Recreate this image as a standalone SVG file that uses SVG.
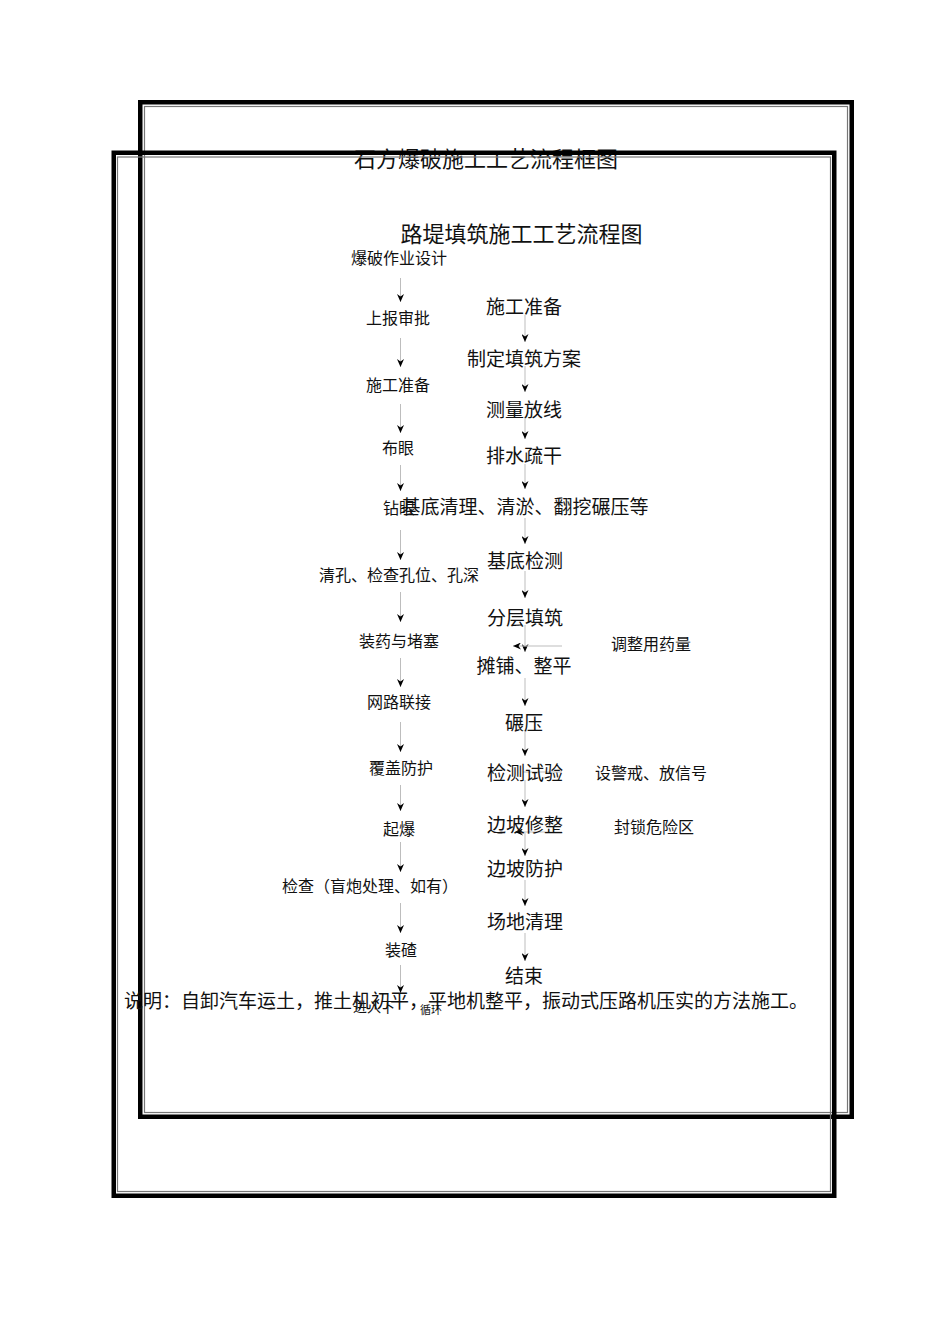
<svg xmlns="http://www.w3.org/2000/svg" width="950" height="1344" viewBox="0 0 950 1344">
<style>
text{font-family:"Noto Sans CJK SC","Noto Sans CJK JP",sans-serif;fill:#111}
.t1{font-size:22px;text-anchor:middle}
.l{font-size:16px;text-anchor:middle}
.r{font-size:19px;text-anchor:middle}
.s{font-size:16px;text-anchor:middle}
.fr{fill:none;stroke:#000;stroke-width:4.5}
.fi{fill:none;stroke:#777;stroke-width:1.2}
.c{stroke:#bdbdbd;stroke-width:1;fill:none;marker-end:url(#ah)}
.cn{stroke:#bdbdbd;stroke-width:1;fill:none}
</style>
<defs>
<marker id="ah" viewBox="0 0 8 7" refX="8" refY="3.5" markerWidth="8" markerHeight="7" markerUnits="userSpaceOnUse" orient="auto">
<path d="M0,0 L8,3.5 L0,7 L2.5,3.5 Z" fill="#000"/>
</marker>
</defs>
<rect width="950" height="1344" fill="#fff"/>
<g id="frame1">
<rect class="fr" x="140.25" y="102.25" width="711.5" height="1014.5"/>
<rect class="fi" x="144.5" y="106.5" width="703" height="1006"/>
</g>
<g id="title1"><text class="t1" x="486" y="167">石方爆破施工工艺流程框图</text></g>
<g id="frame2">
<rect class="fr" x="113.75" y="152.75" width="720.5" height="1043"/>
<rect class="fi" x="117.5" y="157" width="713" height="1034.5"/>
</g>
<g id="title2"><text class="t1" x="521.5" y="241.5">路堤填筑施工工艺流程图</text></g>
<g id="connectors">
<line class="c" x1="400.5" y1="278" x2="400.5" y2="302"/>
<line class="c" x1="400.5" y1="338" x2="400.5" y2="367"/>
<line class="c" x1="400.5" y1="404" x2="400.5" y2="433"/>
<line class="c" x1="400.5" y1="465" x2="400.5" y2="491"/>
<line class="c" x1="400.5" y1="530" x2="400.5" y2="560"/>
<line class="c" x1="400.5" y1="592" x2="400.5" y2="622"/>
<line class="c" x1="400.5" y1="658" x2="400.5" y2="687"/>
<line class="c" x1="400.5" y1="722" x2="400.5" y2="752"/>
<line class="c" x1="400.5" y1="785" x2="400.5" y2="811"/>
<line class="c" x1="400.5" y1="842" x2="400.5" y2="872"/>
<line class="c" x1="400.5" y1="903" x2="400.5" y2="933"/>
<line class="c" x1="400.5" y1="965" x2="400.5" y2="993"/>
<line class="c" x1="525" y1="315" x2="525" y2="342"/>
<line class="c" x1="525" y1="366" x2="525" y2="392"/>
<line class="c" x1="525" y1="417" x2="525" y2="439"/>
<line class="c" x1="525" y1="464" x2="525" y2="489"/>
<line class="c" x1="525" y1="518" x2="525" y2="544"/>
<line class="c" x1="525" y1="571" x2="525" y2="598"/>
<line class="c" x1="525" y1="625" x2="525" y2="652"/>
<line class="c" x1="525" y1="678" x2="525" y2="706"/>
<line class="c" x1="525" y1="730" x2="525" y2="756"/>
<line class="c" x1="525" y1="780" x2="525" y2="807"/>
<line class="c" x1="525" y1="833" x2="525" y2="856"/>
<line class="c" x1="525" y1="880" x2="525" y2="906"/>
<line class="c" x1="525" y1="933" x2="525" y2="961"/>
<line class="c" x1="562" y1="646" x2="513" y2="646"/>
<line class="cn" x1="523" y1="772" x2="562" y2="772"/>
<line class="c" x1="562" y1="832" x2="515" y2="832"/>
</g>
<g id="left-nodes">
<g id="n-l1"><text class="l" x="399" y="264">爆破作业设计</text></g>
<g id="n-l2"><text class="l" x="398" y="324">上报审批</text></g>
<g id="n-l3"><text class="l" x="398" y="391">施工准备</text></g>
<g id="n-l4"><text class="l" x="398" y="454">布眼</text></g>
<g id="n-l5"><text class="l" x="399" y="514">钻眼</text></g>
<g id="n-l6"><text class="l" x="399" y="581">清孔、检查孔位、孔深</text></g>
<g id="n-l7"><text class="l" x="399" y="647">装药与堵塞</text></g>
<g id="n-l8"><text class="l" x="399" y="708">网路联接</text></g>
<g id="n-l9"><text class="l" x="401" y="774">覆盖防护</text></g>
<g id="n-l10"><text class="l" x="399" y="835">起爆</text></g>
<g id="n-l11"><text style="font-size:16px" x="282" y="892">检查（盲炮处理、如有）</text></g>
<g id="n-l12"><text class="l" x="401" y="956">装碴</text></g>
<g id="n-l13"><text style="font-size:14px" x="353" y="1012">进入下</text><text style="font-size:11px" x="420" y="1014">循环</text></g>
</g>
<g id="right-nodes">
<g id="n-r1"><text class="r" x="524" y="314">施工准备</text></g>
<g id="n-r2"><text class="r" x="524" y="366">制定填筑方案</text></g>
<g id="n-r3"><text class="r" x="524" y="417">测量放线</text></g>
<g id="n-r4"><text class="r" x="524" y="463">排水疏干</text></g>
<g id="n-r5"><text class="r" x="525" y="514">基底清理、清淤、翻挖碾压等</text></g>
<g id="n-r6"><text class="r" x="525" y="568">基底检测</text></g>
<g id="n-r7"><text class="r" x="525" y="625">分层填筑</text></g>
<g id="n-r8"><text class="r" x="524" y="673">摊铺、整平</text></g>
<g id="n-r9"><text class="r" x="524" y="730">碾压</text></g>
<g id="n-r10"><text class="r" x="525" y="780">检测试验</text></g>
<g id="n-r11"><text class="r" x="525" y="832">边坡修整</text></g>
<g id="n-r12"><text class="r" x="525" y="876">边坡防护</text></g>
<g id="n-r13"><text class="r" x="525" y="929">场地清理</text></g>
<g id="n-r14"><text class="r" x="524" y="983">结束</text></g>
</g>
<g id="side-nodes">
<g id="n-s1"><text class="s" x="651" y="650">调整用药量</text></g>
<g id="n-s2"><text class="s" x="651" y="779">设警戒、放信号</text></g>
<g id="n-s3"><text class="s" x="654" y="833">封锁危险区</text></g>
</g>
<g id="note"><text style="font-size:19px" x="124" y="1008">说明：自卸汽车运土，推土机初平，平地机整平，振动式压路机压实的方法施工。</text></g>
</svg>
